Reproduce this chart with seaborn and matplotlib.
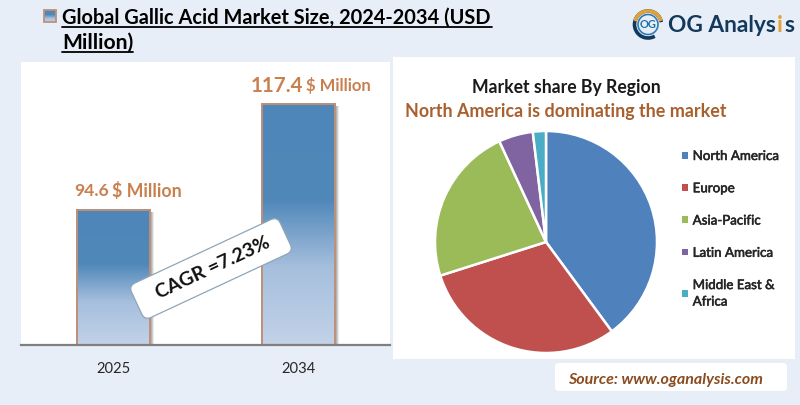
import numpy as np
import matplotlib
matplotlib.use("Agg")
import matplotlib.pyplot as plt
import seaborn as sns
import pandas as pd
from matplotlib.patches import FancyBboxPatch, Rectangle, Arc
from matplotlib.colors import LinearSegmentedColormap
from matplotlib.transforms import Affine2D
import matplotlib.patheffects as pe

years = ["2025", "2034"]
market_size = [94.6, 117.4]
regions = ["North America", "Europe", "Asia-Pacific", "Latin America", "Middle East &\nAfrica"]
shares = [39.9, 30.2, 23.0, 5.0, 1.9]
region_colors = ["#4F81BD", "#C0504D", "#9BBB59", "#8064A2", "#4BACC6"]
title_lines = ["Global Gallic Acid Market Size, 2024-2034 (USD", "Million)"]
cagr_label = "CAGR =7.23%"

BG = "#E8EEF7"
W, H = 800, 405
sns.set_theme(style="white")
plt.rcParams["font.family"] = ["Lato", "DejaVu Sans"]

fig = plt.figure(figsize=(W / 100, H / 100), dpi=100, facecolor=BG)

def px_axes(l, t, r, b, **kw):
    return fig.add_axes([l / W, 1 - b / H, (r - l) / W, (b - t) / H], **kw)

grad = LinearSegmentedColormap.from_list(
    "bar", [(0, "#4E86B9"), (0.40, "#5088BA"), (0.68, "#A6BFDD"), (1, "#C2D2E8")])
grad_arr = np.linspace(0, 1, 256).reshape(-1, 1)

# ---- bar panel
ax = px_axes(21, 62, 390, 345, facecolor="white")
df = pd.DataFrame({"year": years, "size": market_size})
sns.barplot(data=df, x="year", y="size", ax=ax, width=0.39, color="#5088BA",
            edgecolor="#BE9078", linewidth=1.4, saturation=1, zorder=3)
ax.set_xlim(-0.5, 1.495)
ax.set_ylim(65.6, 126.4)
ax.set_xlabel("")
ax.set_ylabel("")
ax.set_yticks([])
for s in ["left", "right", "top"]:
    ax.spines[s].set_visible(False)
ax.spines["bottom"].set_color("#7F7F7F")
ax.spines["bottom"].set_linewidth(1.6)
ax.spines["bottom"].set_zorder(6)
ax.tick_params(axis="x", length=0, pad=12.5, labelsize=10.6, labelcolor="#262626")
for p in list(ax.patches):
    x0, w, top = p.get_x(), p.get_width(), p.get_height()
    base = ax.get_ylim()[0]
    for off, al in [(0.024, 0.18), (0.018, 0.3), (0.012, 0.4)]:
        ax.add_patch(Rectangle((x0 + off, base), w, top - base - 0.5,
                               fc="#8F8F8F", ec="none", alpha=al, zorder=2))
    im = ax.imshow(grad_arr, cmap=grad, aspect="auto", zorder=4,
                   extent=(x0, x0 + w, base, top))
    im.set_clip_path(p)
    ax.add_patch(Rectangle((x0, base), w, top - base,
                           fc="none", ec="#BE9078", lw=1.4, zorder=5))
ax.set_xlim(-0.5, 1.495)
ax.set_ylim(65.6, 126.4)

# ---- pie panel
panel = px_axes(393, 57, 795, 359, facecolor="white")
panel.set_xticks([]); panel.set_yticks([])
for s in panel.spines.values():
    s.set_visible(False)

pie_ax = px_axes(433, 129, 659, 355, facecolor="none")
wedges, _ = pie_ax.pie(shares, colors=sns.color_palette(region_colors), startangle=90,
                       counterclock=False, radius=1.0,
                       wedgeprops=dict(edgecolor="white", linewidth=1.8))
pie_ax.set_xlim(-1.018, 1.018)
pie_ax.set_ylim(-1.018, 1.018)
leg = pie_ax.legend(wedges, regions, loc="upper left", frameon=False,
                    bbox_to_anchor=((682 - 433) / 226, 1 - (150 - 129) / 226),
                    fontsize=9.6, handlelength=0.42, handleheight=0.42, handletextpad=0.38,
                    labelspacing=1.52, borderpad=0, borderaxespad=0, labelcolor="#262626")
for t in leg.get_texts():
    t.set_linespacing(1.45)
    t.set_path_effects([pe.withStroke(linewidth=0.4, foreground="#262626")])
for h in leg.get_patches():
    h.set_edgecolor("none")

# ---- overlay in pixel coordinates
ov = fig.add_axes([0, 0, 1, 1], facecolor="none", zorder=10)
ov.set_xlim(0, W); ov.set_ylim(H, 0); ov.axis("off")

# title
ov.text(62, 17.5, title_lines[0], fontsize=14.45, fontweight="bold", color="black", va="center")
ov.text(62, 43, title_lines[1], fontsize=15.2, fontweight="bold", color="black", va="center")
ov.plot([62, 492], [26.5, 26.5], color="black", lw=1.3)
ov.plot([62, 133], [52, 52], color="black", lw=1.3)
ic = ov.imshow(grad_arr, cmap=grad, aspect="auto", extent=(44, 56, 22, 10), zorder=3)
ov.add_patch(Rectangle((44, 10), 12, 12, fc="none", ec="#BE9078", lw=1.3, zorder=4))
ov.set_xlim(0, W); ov.set_ylim(H, 0)

# value labels
orange = "#C9804F"
ov.text(74, 191, f"{market_size[0]}", fontsize=12.6, fontweight="bold", color=orange, va="center")
ov.text(112, 191, "$ Million", fontsize=12.8, fontweight="bold", color=orange, va="center")
ov.text(251, 86, f"{market_size[1]}", fontsize=14.8, fontweight="bold", color=orange, va="center")
ov.text(306, 86, "$ Million", fontsize=12, fontweight="bold", color=orange, va="center")

# CAGR box
cx, cy = 211, 268.5
bw, bh = 164, 38
box = FancyBboxPatch((cx - bw / 2 + 6, cy - bh / 2 + 6), bw - 12, bh - 12,
                     boxstyle="round,pad=6,rounding_size=7", fc="white", ec="#8FA6B8", lw=0.9,
                     transform=Affine2D().rotate_deg_around(cx, cy, -25) + ov.transData, zorder=7)
ov.add_patch(box)
ov.text(cx + 2, cy - 1, cagr_label, fontsize=14, fontweight="bold", color="#111111", rotation=25,
        rotation_mode="anchor", ha="center", va="center", zorder=8)

# pie headings
ov.text(566, 88, "Market share By Region", fontsize=12.7, fontweight="bold", color="#1A1A1A",
        ha="center", va="center")
ov.text(565.5, 111, "North America is dominating the market", fontsize=12.9, fontweight="bold",
        color="#A8602F", ha="center", va="center")

# source box
ov.add_patch(FancyBboxPatch((559, 367), 224, 20, boxstyle="round,pad=4,rounding_size=4",
                            fc="white", ec="none"))
ov.text(568, 380, "Source: www.oganalysis.com", fontsize=11.5, fontweight="bold", style="italic",
        color="#8A4B1E", va="center")

# logo
navy = "#12395B"
ov.add_patch(Arc((648, 24.5), 27, 27, theta1=60, theta2=350, color=navy, lw=2.6))
ov.add_patch(Arc((648, 24.5), 27, 27, theta1=195, theta2=345, color="#E2A23A", lw=2.6))
ov.add_patch(Arc((648, 24.5), 20, 20, theta1=0, theta2=360, color="#2E7DB5", lw=1.2))
ov.text(648, 25, "OG", fontsize=8, fontweight="bold", color="#1F6FA8", ha="center", va="center")
renderer = fig.canvas.get_renderer()
xpos = 668
for piece, col in [("OG Analys", navy), ("i", "#E2A23A"), ("s", navy)]:
    t = ov.text(xpos, 25, piece, fontsize=16.4, fontweight="bold", color=col, va="center")
    xpos = t.get_window_extent(renderer).x1 + 1.2

fig.savefig("out.png", dpi=100, facecolor=BG)
